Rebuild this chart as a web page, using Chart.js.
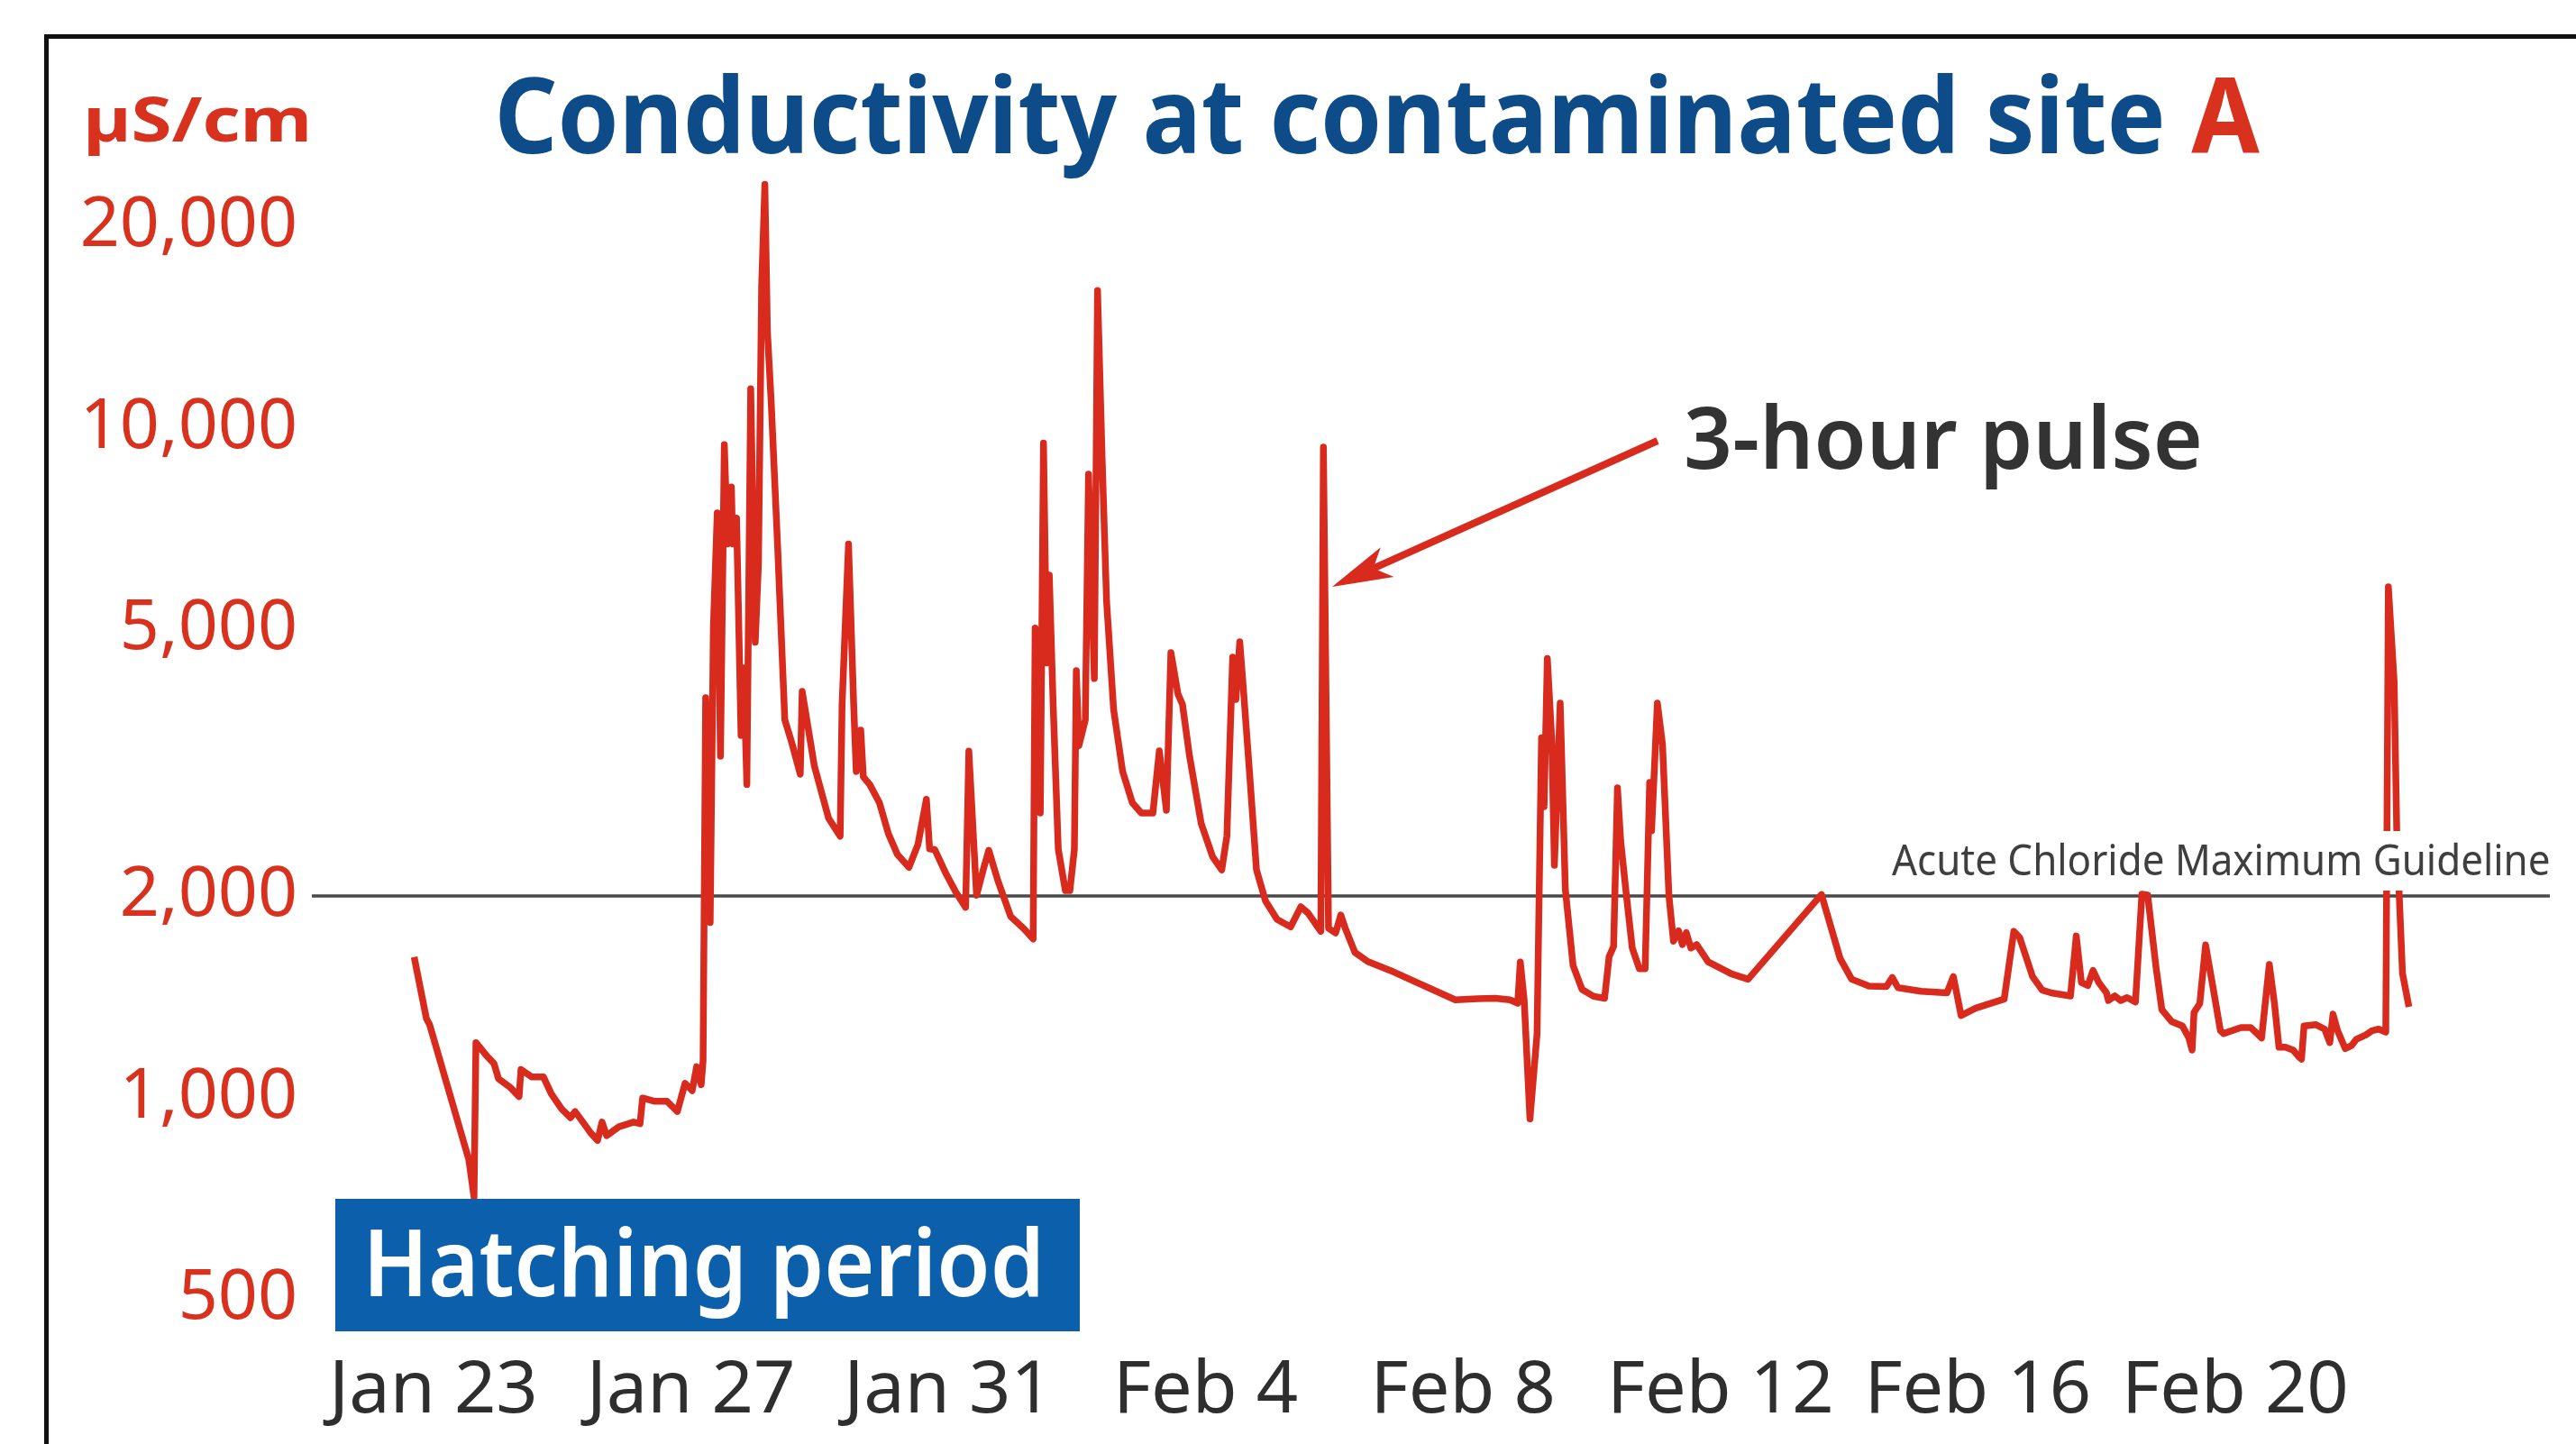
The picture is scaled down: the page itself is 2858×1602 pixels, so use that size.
<!DOCTYPE html>
<html>
<head>
<meta charset="utf-8">
<style>html,body{margin:0;padding:0;background:#fff;}canvas{display:block;}</style>
<script src="https://cdn.jsdelivr.net/npm/chart.js@4.4.1/dist/chart.umd.min.js"></script>
</head>
<body>
<canvas id="c" width="2858" height="1602"></canvas>
<script>
// ---- data (days after Jan 23, conductivity in µS/cm) ----
const DAYS = [-0.30,-0.11,-0.06,0.55,0.63,0.66,0.83,0.94,1.01,1.20,1.33,1.36,1.53,1.71,1.83,1.99,2.13,2.20,2.34,2.44,2.55,2.62,2.69,2.88,3.11,3.21,3.25,3.44,3.63,3.79,3.91,4.02,4.09,4.16,4.19,
4.23,4.30,4.35,4.41,4.46,4.52,4.57,4.63,4.65,4.71,4.78,4.82,4.87,4.93,5.00,5.05,5.10,5.15,5.19,5.25,5.35,5.46,5.57,5.70,5.73,5.92,6.14,6.32,6.35,6.45,6.53,6.57,6.64,6.68,6.78,6.93,7.07,7.21,7.39,7.53,7.66,7.71,7.79,7.97,8.12,8.27,8.32,8.44,8.55,8.63,8.77,8.97,9.17,9.32,
9.35,9.43,9.48,9.53,9.57,9.63,9.71,9.82,9.89,9.96,9.99,10.03,10.13,10.18,10.27,10.32,10.39,10.46,10.57,10.71,10.86,11.00,11.18,11.28,11.39,11.46,11.57,11.64,11.75,11.93,12.11,12.25,12.33,12.42,12.47,12.53,12.58,12.68,12.79,12.93,13.11,13.32,13.48,13.59,13.79,
13.83,13.91,14.02,14.10,14.17,14.32,14.52,14.87,15.17,15.88,16.23,16.50,16.73,16.85,16.89,16.95,17.04,17.15,17.22,17.26,17.31,17.38,17.42,17.51,17.59,17.71,17.85,18.03,18.20,18.27,18.34,18.40,18.45,18.54,18.63,18.74,18.83,18.90,18.93,19.02,19.10,19.20,19.27,19.35,19.41,19.47,19.54,19.63,19.81,20.17,20.43,
21.57,21.86,22.04,22.31,22.58,22.67,22.76,23.12,23.52,23.62,23.74,23.97,24.41,24.56,24.65,24.85,25.00,25.14,25.44,25.53,25.61,25.71,25.79,25.88,26.00,26.03,26.13,26.22,26.32,26.45,26.55,26.64,26.77,26.86,27.01,27.18,27.28,27.33,27.36,27.45,27.54,27.65,27.77,27.82,28.09,28.24,28.29,28.41,28.53,28.61,28.68,28.78,28.90,28.98,29.03,29.07,29.25,29.39,29.47,29.52,29.59,29.71,29.81,29.88,30.03,30.13,30.23,30.34,
30.38,30.47,30.51,30.55,30.60,30.70];
const VALUES = [1621,1312,1285,807,710,1208,1153,1124,1067,1034,1003,1101,1073,1073,1013,962,933,953,914,886,863,919,877,904,919,914,998,987,987,953,1050,1024,1112,1045,1135,
3956,1825,5053,7469,3234,9443,6711,8161,6711,7335,3473,4382,2934,11445,4785,6249,16336,23118,13924,10850,6597,3664,3383,3039,4042,3125,2613,2456,3865,6711,3865,3068,3538,3013,2934,2757,2477,2307,2207,2390,2789,2352,2346,2154,2025,1923,3291,2004,2200,2340,2110,1864,1789,1725,
5027,2660,9493,4457,6030,3865,2348,2037,2037,2348,4341,3352,3664,8533,4224,16050,9079,5518,3797,3068,2757,2660,2660,3294,2685,4619,4005,3865,3234,2567,2287,2187,2456,4548,3931,4794,4157,3077,2188,1966,1845,1798,1927,1886,1771,
9365,1789,1761,1874,1789,1647,1596,1548,1502,1399,1405,1407,1399,1383,1594,1399,929,1243,3447,2719,4528,3407,2222,3882,2045,1575,1450,1416,1407,1623,1681,2902,2415,2000,1672,1557,1557,2955,2502,3882,3367,2000,1712,1774,1692,1763,1672,1692,1594,1530,1502,
2010,1613,1502,1467,1465,1511,1459,1441,1433,1516,1326,1360,1403,1771,1734,1516,1447,1433,1418,1743,1485,1470,1548,1485,1433,1396,1418,1396,1410,1389,2012,2006,1564,1353,1299,1279,1227,1177,1340,1382,1690,1470,1259,1246,1272,1272,1259,1227,1580,1382,1189,1189,1177,1153,1141,1279,1285,1265,1208,1332,1259,1183,1196,1221,1240,1259,1265,1252,
5792,4183,2516,1994,1532,1366];
const TICK_DAYS = [0,4,8,12,16,20,24,28];
const TICK_LABELS = ['Jan 23','Jan 27','Jan 31','Feb 4','Feb 8','Feb 12','Feb 16','Feb 20'];
const Y_TICKS = [500,1000,2000,5000,10000,20000];
const GUIDELINE = 2000;
const TITLE_MAIN = 'Conductivity at contaminated site ';
const TITLE_SITE = 'A';
const UNIT = 'µS/cm';
const GUIDE_LABEL = 'Acute Chloride Maximum Guideline';
const PULSE_LABEL = '3-hour pulse';
const PERIOD_LABEL = 'Hatching period';

// ---- styles ----
const FAMILY = '"Noto Sans", "Open Sans", sans-serif';
const RED = '#d82b1e';
const RED_TEXT = '#d8321f';
const BLUE_TITLE = '#0d4c89';
const BLUE_BOX = '#0b5fab';
const DARK = '#2e2e2e';

const mctx = document.createElement('canvas').getContext('2d');
function fitSize(text, weight, target) {
  mctx.font = `${weight} 100px ${FAMILY}`;
  const m = mctx.measureText(text);
  return 100 * target / (m.actualBoundingBoxLeft + m.actualBoundingBoxRight);
}
const Y_FONT = fitSize('20,000', 'normal', 235);
const X_FONT = fitSize('Jan 23', 'normal', 234);

function drawFit(ctx, parts, box) {
  const full = parts.map(p => p.text).join('');
  ctx.save();
  ctx.font = `${box.weight} 100px ${FAMILY}`;
  const capRatio = ctx.measureText('H').actualBoundingBoxAscent / 100;
  const size = box.cap / capRatio;
  ctx.font = `${box.weight} ${size}px ${FAMILY}`;
  const m = ctx.measureText(full);
  const ink = m.actualBoundingBoxLeft + m.actualBoundingBoxRight;
  const sx = (box.right - box.left) / ink;
  ctx.translate(box.left, box.baseline);
  ctx.scale(sx, 1);
  ctx.textAlign = 'left';
  ctx.textBaseline = 'alphabetic';
  let x = m.actualBoundingBoxLeft;
  for (const p of parts) {
    ctx.fillStyle = p.color;
    ctx.fillText(p.text, x, 0);
    x += ctx.measureText(p.text).width;
  }
  ctx.restore();
}

const decor = {
  id: 'decor',
  beforeDatasetsDraw(chart) {
    const {ctx, chartArea: a, scales: {y}} = chart;
    const gy = y.getPixelForValue(GUIDELINE);
    ctx.save();
    ctx.strokeStyle = '#4a4a4a';
    ctx.lineWidth = 3.5;
    ctx.beginPath();
    ctx.moveTo(a.left, gy);
    ctx.lineTo(a.right, gy);
    ctx.stroke();
    ctx.restore();
  },
  afterDatasetsDraw(chart) {
    const {ctx, chartArea: a, scales: {y}} = chart;
    const gy = y.getPixelForValue(GUIDELINE);
    // guideline label on a white knockout
    ctx.save();
    ctx.fillStyle = '#ffffff';
    ctx.fillRect(a.right - 738, gy - 72, 740, 66);
    ctx.restore();
    drawFit(ctx, [{text: GUIDE_LABEL, color: '#3f3f3f'}],
      {left: a.right - 730, right: a.right - 1, baseline: gy - 23, cap: 34, weight: 'normal'});
    // Hatching period box
    ctx.save();
    ctx.fillStyle = BLUE_BOX;
    ctx.fillRect(372, 1330, 826, 147);
    ctx.restore();
    drawFit(ctx, [{text: PERIOD_LABEL, color: '#ffffff'}],
      {left: 411, right: 1152, baseline: 1438, cap: 74, weight: '600'});
    // arrow
    const tail = [1839, 489], tip = [1478, 651];
    const dx = tail[0] - tip[0], dy = tail[1] - tip[1];
    const L = Math.hypot(dx, dy), ux = dx / L, uy = dy / L, nx = -uy, ny = ux;
    const headLen = 67, half = 18, notch = 50;
    ctx.save();
    ctx.strokeStyle = RED; ctx.fillStyle = RED;
    ctx.lineWidth = 8; ctx.lineCap = 'butt';
    ctx.beginPath();
    ctx.moveTo(tail[0], tail[1]);
    ctx.lineTo(tip[0] + ux * notch, tip[1] + uy * notch);
    ctx.stroke();
    ctx.beginPath();
    ctx.moveTo(tip[0], tip[1]);
    ctx.lineTo(tip[0] + ux * headLen + nx * half, tip[1] + uy * headLen + ny * half);
    ctx.lineTo(tip[0] + ux * notch, tip[1] + uy * notch);
    ctx.lineTo(tip[0] + ux * headLen - nx * half, tip[1] + uy * headLen - ny * half);
    ctx.closePath();
    ctx.fill();
    ctx.restore();
    drawFit(ctx, [{text: PULSE_LABEL, color: '#333333'}],
      {left: 1871, right: 2440, baseline: 520, cap: 69, weight: '600'});
  },
  afterDraw(chart) {
    const {ctx} = chart;
    // frame
    ctx.save();
    ctx.strokeStyle = '#111';
    ctx.lineWidth = 5;
    ctx.beginPath();
    ctx.moveTo(51.5, 1602);
    ctx.lineTo(51.5, 40.5);
    ctx.lineTo(2858, 40.5);
    ctx.stroke();
    ctx.restore();
    drawFit(ctx, [{text: TITLE_MAIN, color: BLUE_TITLE}, {text: TITLE_SITE, color: RED_TEXT}],
      {left: 554, right: 2507, baseline: 170, cap: 84, weight: 'bold'});
    drawFit(ctx, [{text: UNIT, color: RED_TEXT}],
      {left: 97, right: 341, baseline: 157, cap: 49, weight: 'bold'});
  }
};

new Chart(document.getElementById('c'), {
  type: 'line',
  data: {
    datasets: [{
      data: DAYS.map((d, i) => ({x: d, y: VALUES[i]})),
      borderColor: RED,
      borderWidth: 7.5,
      borderJoinStyle: 'round',
      pointRadius: 0,
      tension: 0,
      fill: false
    }]
  },
  options: {
    responsive: false,
    devicePixelRatio: 1,
    animation: false,
    layout: {padding: {top: 179.2, left: 0, right: 29, bottom: 0}},
    plugins: {legend: {display: false}, tooltip: {enabled: false}, title: {display: false}},
    scales: {
      x: {
        type: 'linear', min: -1.89, max: 32.89,
        afterBuildTicks: s => { s.ticks = TICK_DAYS.map(v => ({value: v})); },
        afterFit: s => { s.height = 126.8; },
        ticks: {
          callback: v => TICK_LABELS[TICK_DAYS.indexOf(v)] ?? '',
          color: DARK, padding: 20, maxRotation: 0, autoSkip: false,
          font: {family: FAMILY, size: X_FONT, weight: 'normal'}
        },
        grid: {display: false, drawTicks: false},
        border: {display: false}
      },
      y: {
        type: 'logarithmic', min: 450, max: 25000,
        afterBuildTicks: s => { s.ticks = Y_TICKS.map(v => ({value: v})); },
        afterFit: s => { s.width = 346; },
        ticks: {
          callback: v => Number(v).toLocaleString('en-US'),
          color: RED_TEXT, padding: 16, autoSkip: false,
          font: {family: FAMILY, size: Y_FONT, weight: 'normal'}
        },
        grid: {display: false, drawTicks: false},
        border: {display: false}
      }
    }
  },
  plugins: [decor]
});
</script>
</body>
</html>
